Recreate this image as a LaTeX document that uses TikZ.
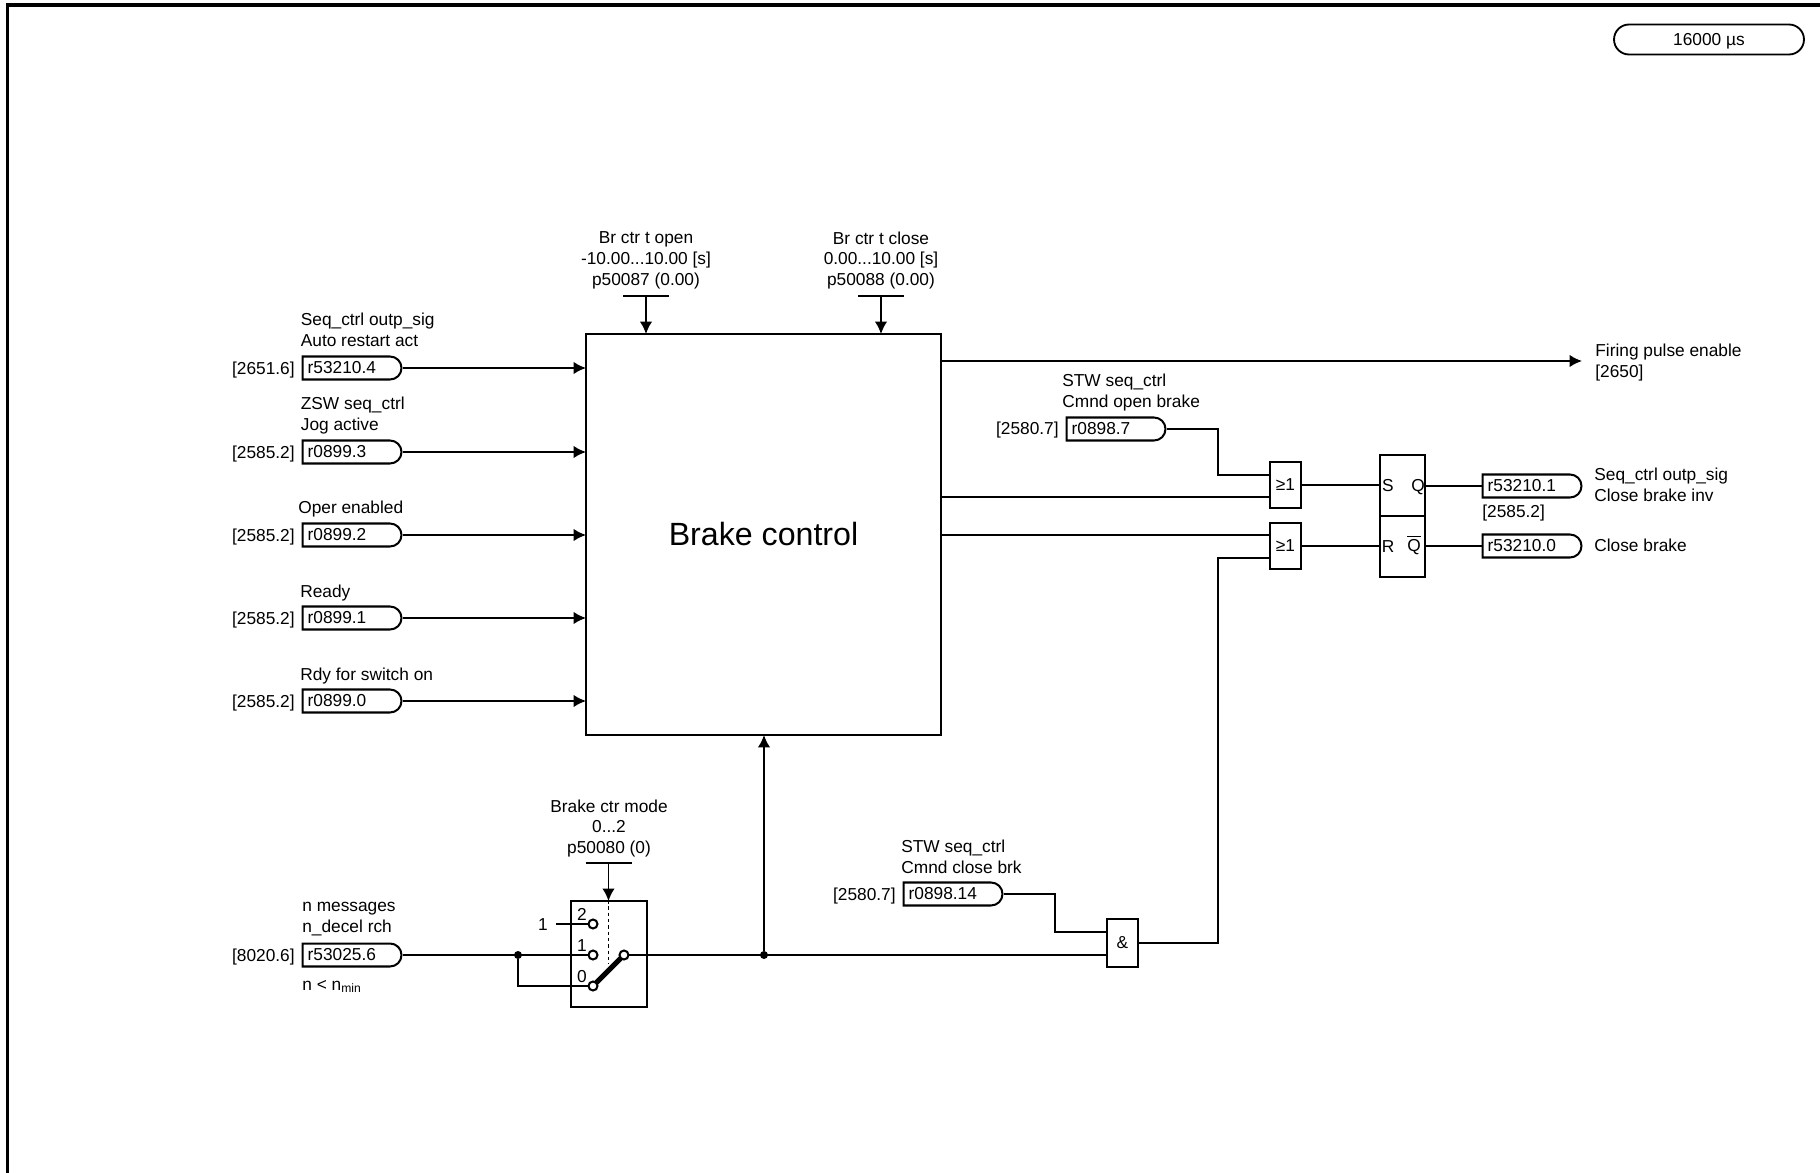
\documentclass[tikz,border=0pt]{standalone}
\usepackage{fontspec}
\setmainfont{Liberation Sans}
\usetikzlibrary{positioning,arrows.meta,shapes.misc,calc}

\tikzset{
    wire/.style={line width=1.05pt},
    flow/.style={wire, shorten >=-0.6pt, -{Latex[length=2.5mm,width=2.5mm]}},
    blk/.style={draw, line width=1.15pt, inner sep=0pt, font=\fontsize{9.85}{11.9}\selectfont},
    sigtag/.style={draw, line width=1.15pt, rounded rectangle, rounded rectangle west arc=none,
        anchor=west, minimum height=0.46cm, minimum width=1.98cm, inner sep=0pt,
        text width=1.74cm, align=left, font=\fontsize{9.85}{11.9}\selectfont},
    txtl/.style={inner sep=0pt, anchor=west, align=left, yshift=-1.6pt, font=\fontsize{9.85}{11.9}\selectfont,
        execute at begin node=\strut, execute at end node=\strut},
    txtr/.style={txtl, anchor=east, align=right},
    txtc/.style={txtl, anchor=center, align=center},
    contact/.style={circle, draw, fill=white, line width=1.15pt, inner sep=0pt, minimum size=0.18cm},
    joint/.style={circle, fill=black, inner sep=0pt, minimum size=0.16cm},
}

\begin{document}
\begin{tikzpicture}[x=0.02cm, y=-0.02cm]
    \useasboundingbox (0,0) rectangle (1820,1173);
    %
    \node[coordinate] (frameB) at (7.5,1173) {};
    \node[coordinate] (frameC) at (7.5,5) {};
    \node[coordinate] (frameR) at (1820,5) {};
    \draw[line width=2pt] (frameB) -- (frameC) -- (frameR);
    \node[draw, line width=1.05pt, rounded rectangle, minimum width=3.8cm, minimum height=0.6cm, inner sep=0pt,
        text depth=0pt, font=\fontsize{9.85}{11.9}\selectfont] (cycle) at (1709,39.5) {16000 µs};
    %
    \node[blk, minimum width=7.1cm, minimum height=8.02cm, font=\fontsize{18.3}{22}\selectfont] (ctrl) at (763.5,534.5) {Brake control};
    %
    \foreach \nm/\y/\xl/\yl/\ref/\sig/\txt in {
        A/368/300.5/330.5/2651.6/r53210.4/{Seq\_ctrl outp\_sig\\Auto restart act},
        B/452/300.5/414/2585.2/r0899.3/{ZSW seq\_ctrl\\Jog active},
        C/535/298/507/2585.2/r0899.2/{Oper enabled},
        D/618/300/591/2585.2/r0899.1/{Ready},
        E/701/300/674/2585.2/r0899.0/{Rdy for switch on}} {
        \node[sigtag] (tag\nm) at (301.5,\y) {\sig};
        \node[txtr] (ref\nm) at (295,\y) {[\ref]};
        \node[txtl] (lab\nm) at (\xl,\yl) {\txt};
        \draw[flow] (tag\nm.east) -- (tag\nm.east -| ctrl.west);
    }
    %
    \foreach \nm/\x/\val in {
        Open/646/{Br ctr t open\\-10.00...10.00 [s]\\p50087 (0.00)},
        Close/881/{Br ctr t close\\0.00...10.00 [s]\\p50088 (0.00)}} {
        \node[txtc] (lab\nm) at (\x,259) {\val};
        \node[coordinate] (bar\nm) at (\x,296) {};
        \draw[wire] ([xshift=-0.46cm]bar\nm) -- ([xshift=0.46cm]bar\nm);
        \draw[flow] (bar\nm) -- (bar\nm |- ctrl.north);
    }
    %
    \node[coordinate] (fire) at (1581,361) {};
    \draw[flow] (fire -| ctrl.east) -- (fire);
    \node[txtl] (labFire) at (1595,361) {Firing pulse enable\\{}[2650]};
    %
    \node[blk, minimum width=0.62cm, minimum height=0.92cm] (orS) at (1285.5,485) {≥1};
    \node[blk, minimum width=0.62cm, minimum height=0.92cm] (orR) at (1285.5,546) {≥1};
    \node[blk, minimum width=0.9cm, minimum height=1.22cm] (latS) at (1402.5,485.5) {};
    \node[blk, minimum width=0.9cm, minimum height=1.22cm] (latR) at (1402.5,546.5) {};
    \node[txtl, anchor=center] (sS) at (1388,485) {S};
    \node[txtl, anchor=center] (qS) at (1418,485) {Q};
    \node[txtl, anchor=center] (sR) at (1388,546) {R};
    \node[inner sep=0pt, font=\fontsize{9.85}{11.9}\selectfont] (qR) at (1414,545) {$\overline{\mbox{Q}}$};
    %
    \node[sigtag] (tagQ) at (1481.5,486) {r53210.1};
    \node[sigtag] (tagN) at (1481.5,546) {r53210.0};
    \node[txtl] (refQ) at (1482,511) {[2585.2]};
    \node[txtl] (labQ) at (1594,485) {Seq\_ctrl outp\_sig\\Close brake inv};
    \node[txtl] (labN) at (1594,545) {Close brake};
    \draw[wire] (orS.east) -- (latS.west |- orS);
    \draw[wire] (orR.east) -- (latR.west |- orR);
    \draw[wire] (latS.east |- tagQ) -- (tagQ.west);
    \draw[wire] (latR.east |- tagN) -- (tagN.west);
    %
    \node[sigtag] (tagOpen) at (1065.5,429) {r0898.7};
    \node[txtr] (refOpen) at (1059,428) {[2580.7]};
    \node[txtl] (labOpenB) at (1062,391.5) {STW seq\_ctrl\\Cmnd open brake};
    \node[coordinate] (inS) at (1270,475) {};
    \draw[wire] (tagOpen.east) -| ($(inS)+(-52,0)$) -- (inS);
    \node[coordinate] (inSb) at (1270,497) {};
    \draw[wire] (inSb -| ctrl.east) -- (inSb);
    \node[coordinate] (inRa) at (1270,535) {};
    \draw[wire] (inRa -| ctrl.east) -- (inRa);
    %
    \node[blk, minimum width=0.62cm, minimum height=0.96cm] (andB) at (1122.5,943) {\&};
    \node[sigtag] (tagCls) at (902.5,894) {r0898.14};
    \node[txtr] (refCls) at (896,893) {[2580.7]};
    \node[txtl] (labCls) at (901,857.5) {STW seq\_ctrl\\Cmnd close brk};
    \node[coordinate] (inAnd) at (1107,932) {};
    \draw[wire] (tagCls.east) -| ($(inAnd)+(-52,0)$) -- (inAnd);
    \node[coordinate] (inRb) at (1270,558) {};
    \draw[wire] (andB.east) -| ($(inRb)+(-52,0)$) -- (inRb);
    %
    \node[blk, minimum width=1.52cm, minimum height=2.12cm] (mode) at (609,954) {};
    \node[coordinate] (cTwo) at (593,924) {};
    \node[coordinate] (cOne) at (593,955) {};
    \node[coordinate] (cZero) at (593,986) {};
    \node[coordinate] (cOut) at (624,955) {};
    \node[coordinate] (oneEnd) at (556,924) {};
    \node[txtl, anchor=center] (nTwo) at (582,913) {2};
    \node[txtl, anchor=center] (nOne) at (582,944) {1};
    \node[txtl, anchor=center] (nZero) at (582,975) {0};
    \node[txtl, anchor=center] (one) at (543,923) {1};
    \node[txtc] (labMode) at (609,827) {Brake ctr mode\\0...2\\p50080 (0)};
    \node[coordinate] (barMode) at (608.5,863) {};
    \draw[wire] ([xshift=-0.46cm]barMode) -- ([xshift=0.46cm]barMode);
    \draw[flow] (barMode) -- (barMode |- mode.north);
    \draw[wire, dash pattern=on 2pt off 1.6pt] (barMode |- mode.north) -- ($(barMode |- cOut)+(0,9)$);
    \draw[wire] (oneEnd) -- (cTwo);
    \draw[line width=3pt] (cZero) -- (cOut);
    %
    \node[sigtag] (tagN2) at (301.5,955) {r53025.6};
    \node[txtr] (refN2) at (295,954) {[8020.6]};
    \node[txtl] (labN2) at (302,918) {n messages\\n\_decel rch};
    \node[txtl] (minN2) at (302,983) {n < n\textsubscript{min}};
    \node[joint] (jIn) at (518,955) {};
    \node[joint] (jOut) at (764,955) {};
    \draw[wire] (tagN2.east) -- (cOne);
    \draw[wire] (jIn) |- (cZero);
    \draw[wire] (cOut) -- (cOut -| andB.west);
    \draw[flow] (jOut) -- (jOut |- ctrl.south);
    \node[contact] (dTwo) at (cTwo) {};
    \node[contact] (dOne) at (cOne) {};
    \node[contact] (dZero) at (cZero) {};
    \node[contact] (dOut) at (cOut) {};
\end{tikzpicture}
\end{document}
